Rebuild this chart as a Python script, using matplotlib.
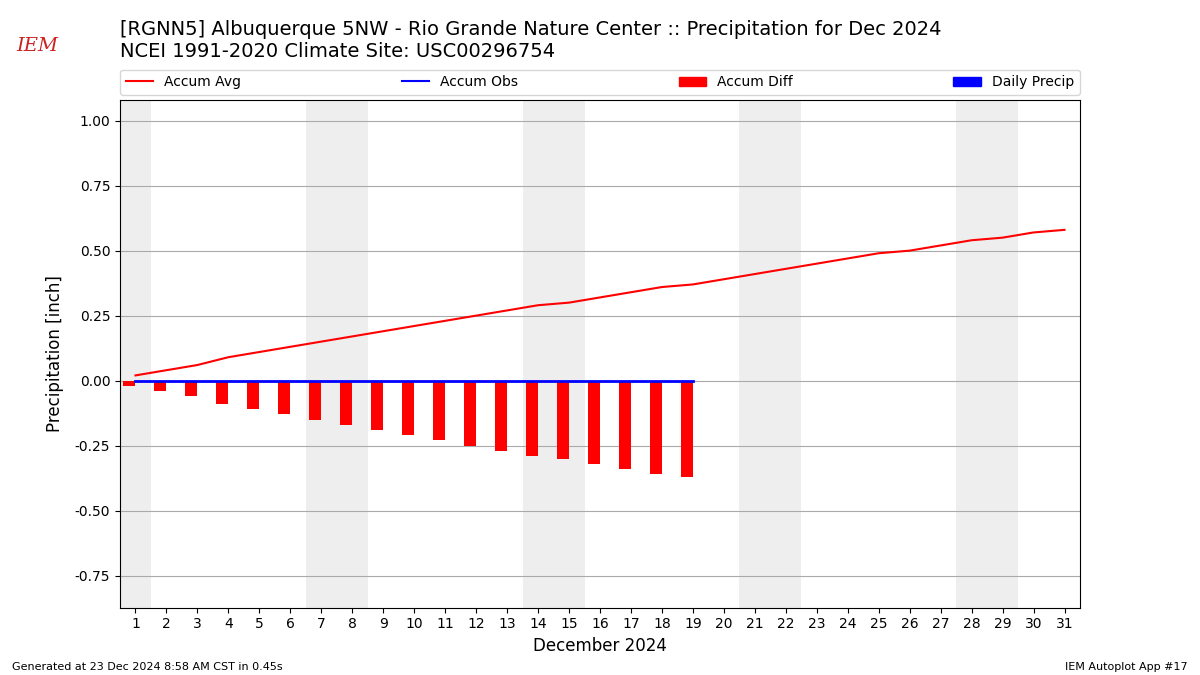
"""
Accumulated precipitation chart for RGNN5 (Albuquerque 5NW), December 2024.
"""

import numpy as np
import matplotlib
matplotlib.use("Agg")
import matplotlib.pyplot as plt
from matplotlib.patches import Patch
from matplotlib.lines import Line2D

# ----------------------------------------------------------------------
# Data
# ----------------------------------------------------------------------

days = list(range(1, 32))
accum_avg = [0.02, 0.04, 0.06, 0.09, 0.11, 0.13, 0.15, 0.17, 0.19, 0.21,
             0.23, 0.25, 0.27, 0.29, 0.30, 0.32, 0.34, 0.36, 0.37, 0.39,
             0.41, 0.43, 0.45, 0.47, 0.49, 0.50, 0.52, 0.54, 0.55, 0.57,
             0.58]
obs_days = list(range(1, 20))
accum_obs = [0.0] * 19
daily_precip = [0.0] * 19
accum_diff = [-0.02, -0.04, -0.06, -0.09, -0.11, -0.13, -0.15, -0.17, -0.19,
              -0.21, -0.23, -0.25, -0.27, -0.29, -0.30, -0.32, -0.34, -0.36,
              -0.37]
weekend_days = [1, 7, 8, 14, 15, 21, 22, 28, 29]

title = ("[RGNN5] Albuquerque 5NW - Rio Grande Nature Center :: Precipitation for Dec 2024\n"
         "NCEI 1991-2020 Climate Site: USC00296754")

# ----------------------------------------------------------------------
# Plot
# ----------------------------------------------------------------------

fig = plt.figure(figsize=(12, 6.75), dpi=100)
ax = fig.add_axes([0.1, 0.1, 0.8, 0.752])

# weekend shading
for d in weekend_days:
    ax.axvspan(d - 0.5, d + 0.5, color="#EEEEEE", lw=0, zorder=0)

ax.bar(obs_days, accum_diff, width=-0.4, align="edge", color="r", zorder=2)
ax.bar(obs_days, daily_precip, width=0.4, align="edge", color="b", zorder=2)
ax.plot(days, accum_avg, color="r", lw=1.5, zorder=3)
ax.plot(obs_days, accum_obs, color="b", lw=2, zorder=3)

ax.set_xlim(0.5, 31.5)
ax.set_ylim(-0.873, 1.08)
ax.set_xticks(days)
ax.set_yticks([-0.75, -0.5, -0.25, 0, 0.25, 0.5, 0.75, 1.0])
ax.yaxis.set_major_formatter(matplotlib.ticker.FormatStrFormatter("%.2f"))
ax.grid(axis="y", color="#aaaaaa", lw=0.8, zorder=1)
ax.set_axisbelow(True)
ax.tick_params(labelsize=10)
ax.set_xlabel("December 2024", fontsize=12)
ax.set_ylabel("Precipitation [inch]", fontsize=12, labelpad=8)

handles = [
    Line2D([], [], color="r", lw=1.5),
    Line2D([], [], color="b", lw=1.5),
    Patch(color="r"),
    Patch(color="b"),
]
ax.legend(handles, ["Accum Avg", "Accum Obs", "Accum Diff", "Daily Precip"],
          loc="lower left", bbox_to_anchor=(0, 1.01, 1, 0.05), mode="expand",
          ncol=4, fontsize=10, borderaxespad=0)

fig.text(0.1, 0.97, title, fontsize=14, va="top", ha="left")

# logo stand-in
fig.text(0.031, 0.932, "IEM", fontsize=14, color="#cc2222", family="serif",
         style="italic", ha="center", va="center")

fig.text(0.01, 0.007, "Generated at 23 Dec 2024 8:58 AM CST in 0.45s", fontsize=8)
fig.text(0.99, 0.007, "IEM Autoplot App #17", fontsize=8, ha="right")

fig.savefig("out.png", dpi=100)
plt.close(fig)
